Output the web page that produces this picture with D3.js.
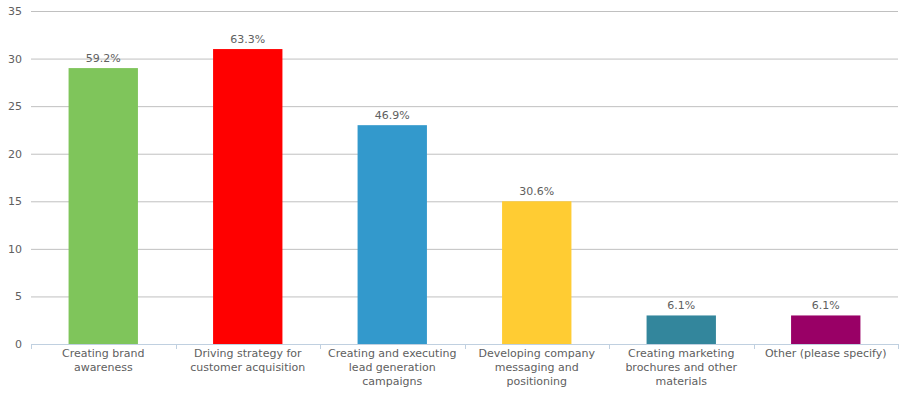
<!DOCTYPE html>
<html>
<head>
<meta charset="utf-8">
<script src="https://cdn.jsdelivr.net/npm/d3@7"></script>
<style>
  body { margin:0; background:#fff; }
  text { font-family: "DejaVu Sans", Verdana, sans-serif; }
</style>
</head>
<body>
<div id="chart"></div>
<script>
var categories = [
  "Creating brand awareness",
  "Driving strategy for customer acquisition",
  "Creating and executing lead generation campaigns",
  "Developing company messaging and positioning",
  "Creating marketing brochures and other materials",
  "Other (please specify)"
]
// wrapped the same way the reference wraps them
var catLines = [
  ["Creating brand", "awareness"],
  ["Driving strategy for", "customer acquisition"],
  ["Creating and executing", "lead generation", "campaigns"],
  ["Developing company", "messaging and", "positioning"],
  ["Creating marketing", "brochures and other", "materials"],
  ["Other (please specify)"]
]
var counts = [29, 31, 23, 15, 3, 3]
var percents = ["59.2%", "63.3%", "46.9%", "30.6%", "6.1%", "6.1%"]
var colors = ["#7fc55b", "#ff0000", "#3399cc", "#ffcc33", "#33869c", "#990066"]
var yTicks = [0, 5, 10, 15, 20, 25, 30, 35]

var W = 904, H = 393
var margin = {top: 11, right: 6, bottom: 49, left: 31}
var width = W - margin.left - margin.right
var height = H - margin.top - margin.bottom

var svg = d3.select("#chart").append("svg")
    .attr("width", W).attr("height", H)
  .append("g")
    .attr("transform", "translate(" + margin.left + "," + margin.top + ")")

var x = d3.scaleBand().domain(categories).range([0, width])
var y = d3.scaleLinear().domain([0, 35]).range([height, 0])
var barW = x.bandwidth() * 0.48

// gridlines
svg.append("g").selectAll("line.grid")
  .data(yTicks.filter(d => d > 0))
  .enter().append("line")
    .attr("x1", 0).attr("x2", width)
    .attr("y1", d => y(d) + 0.5).attr("y2", d => y(d) + 0.5)
    .attr("stroke", "#c0c0c0").attr("stroke-width", 1)

// y labels
svg.append("g").selectAll("text")
  .data(yTicks)
  .enter().append("text")
    .attr("x", -9).attr("y", d => y(d) + 4)
    .attr("text-anchor", "end")
    .attr("font-size", "11px").attr("fill", "#606060")
    .text(d => d)

// bars
svg.append("g").selectAll("rect")
  .data(counts)
  .enter().append("rect")
    .attr("x", (d, i) => x(categories[i]) + (x.bandwidth() - barW) / 2)
    .attr("y", d => y(d))
    .attr("width", barW)
    .attr("height", d => y(0) - y(d))
    .attr("fill", (d, i) => colors[i])

// data labels
svg.append("g").selectAll("text")
  .data(counts)
  .enter().append("text")
    .attr("x", (d, i) => x(categories[i]) + x.bandwidth() / 2)
    .attr("y", d => y(d) - 6)
    .attr("text-anchor", "middle")
    .attr("font-size", "11px").attr("fill", "#606060")
    .text((d, i) => percents[i])

// x axis line + ticks
var xa = svg.append("g").attr("transform", "translate(0," + height + ")")
xa.append("line").attr("x1", 0).attr("x2", width).attr("y1", 0.5).attr("y2", 0.5)
  .attr("stroke", "#c0d0e0")
xa.selectAll("line.tick")
  .data(categories.map(c => x(c)).concat([width]))
  .enter().append("line")
    .attr("x1", d => Math.round(d) + 0.5).attr("x2", d => Math.round(d) + 0.5)
    .attr("y1", 0).attr("y2", 5)
    .attr("stroke", "#c0d0e0")

// category labels
xa.selectAll("text.cat")
  .data(catLines)
  .enter().append("text")
    .attr("text-anchor", "middle")
    .attr("font-size", "11px").attr("fill", "#606060")
    .attr("transform", (d, i) => "translate(" + (x(categories[i]) + x.bandwidth() / 2) + ",13)")
  .selectAll("tspan")
  .data(d => d)
  .enter().append("tspan")
    .attr("x", 0)
    .attr("y", (d, i) => i * 14)
    .text(d => d)
</script>
</body>
</html>
